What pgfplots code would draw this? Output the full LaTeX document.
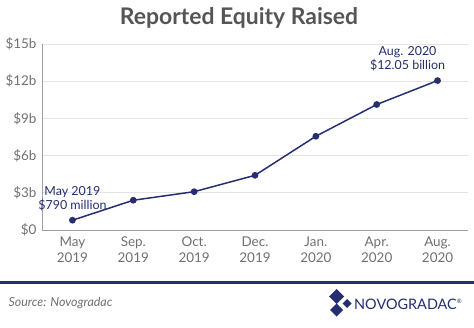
\documentclass[border=0pt]{standalone}
\usepackage{fontspec}
\setmainfont{Lato}
\usepackage{pgfplots}
\pgfplotsset{compat=1.18}
\definecolor{navy}{RGB}{36,46,112}
\definecolor{ticktxt}{RGB}{112,112,112}
\definecolor{titletxt}{RGB}{85,85,85}
\definecolor{gridc}{RGB}{228,228,228}
\definecolor{axc}{RGB}{160,160,160}
\begin{document}
\begin{tikzpicture}[x=1bp,y=1bp]
\path (0,0) rectangle (474,327);
\begin{axis}[
  scale only axis, width=426bp, height=186bp,
  at={(42bp,97bp)}, anchor=south west,
  xmin=-0.5, xmax=6.5, ymin=0, ymax=15,
  axis x line*=bottom, axis y line*=left,
  axis line style={axc, line width=0.8pt},
  ymajorgrids, grid style={gridc, line width=0.8pt},
  major tick length=0pt,
  ytick={0,3,6,9,12,15},
  yticklabels={\$0,\$3b,\$6b,\$9b,\$12b,\$15b},
  xtick={0,1,2,3,4,5,6},
  xticklabels={May\\2019,Sep.\\2019,Oct.\\2019,Dec.\\2019,Jan.\\2020,Apr.\\2020,Aug.\\2020},
  xticklabel style={align=center, font=\fontsize{13.5}{16}\selectfont, text=ticktxt, yshift=-3bp},
  yticklabel style={font=\fontsize{13.5}{16}\selectfont, text=ticktxt, xshift=-2bp},
  clip=false,
]
\addplot[navy, line width=1.5pt, mark=*, mark size=2.6pt, mark options={fill=navy, draw=navy}]
  coordinates {(0,0.79) (1,2.40) (2,3.09) (3,4.41) (4,7.56) (5,10.12) (6,12.05)};
\node[navy, align=center, font=\fontsize{12.5}{14}\selectfont, anchor=south] at (axis cs:0,0.79) [yshift=6bp] {May 2019\\\$790 million};
\node[navy, align=center, font=\fontsize{12.5}{14}\selectfont, anchor=south] at (axis cs:6,12.05) [yshift=6bp, xshift=-30bp] {Aug. 2020\\\$12.05 billion};
\end{axis}
\node[font=\bfseries\fontsize{23}{26}\selectfont, text=titletxt] at (239,309) {Reported Equity Raised};
\fill[navy] (0,43.5) rectangle (474,46.5);
\node[anchor=west, font=\itshape\fontsize{12.5}{14}\selectfont, text=ticktxt] at (5,24) {Source: Novogradac};
\fill[navy] (336.5,38) -- (344,30.5) -- (336.5,23) -- (329,30.5) -- cycle;
\fill[navy] (347,28) -- (351.5,23.5) -- (347,19) -- (342.5,23.5) -- cycle;
\fill[navy] (336.5,23.5) -- (343,17) -- (336.5,10.5) -- (330,17) -- cycle;
\node[anchor=west, font=\fontsize{14.5}{17}\selectfont, text=navy, inner sep=0pt] at (354,22.5) {NOVOGRADAC\raisebox{0.45em}{\fontsize{6}{6}\selectfont\textregistered}};
\end{tikzpicture}
\end{document}
